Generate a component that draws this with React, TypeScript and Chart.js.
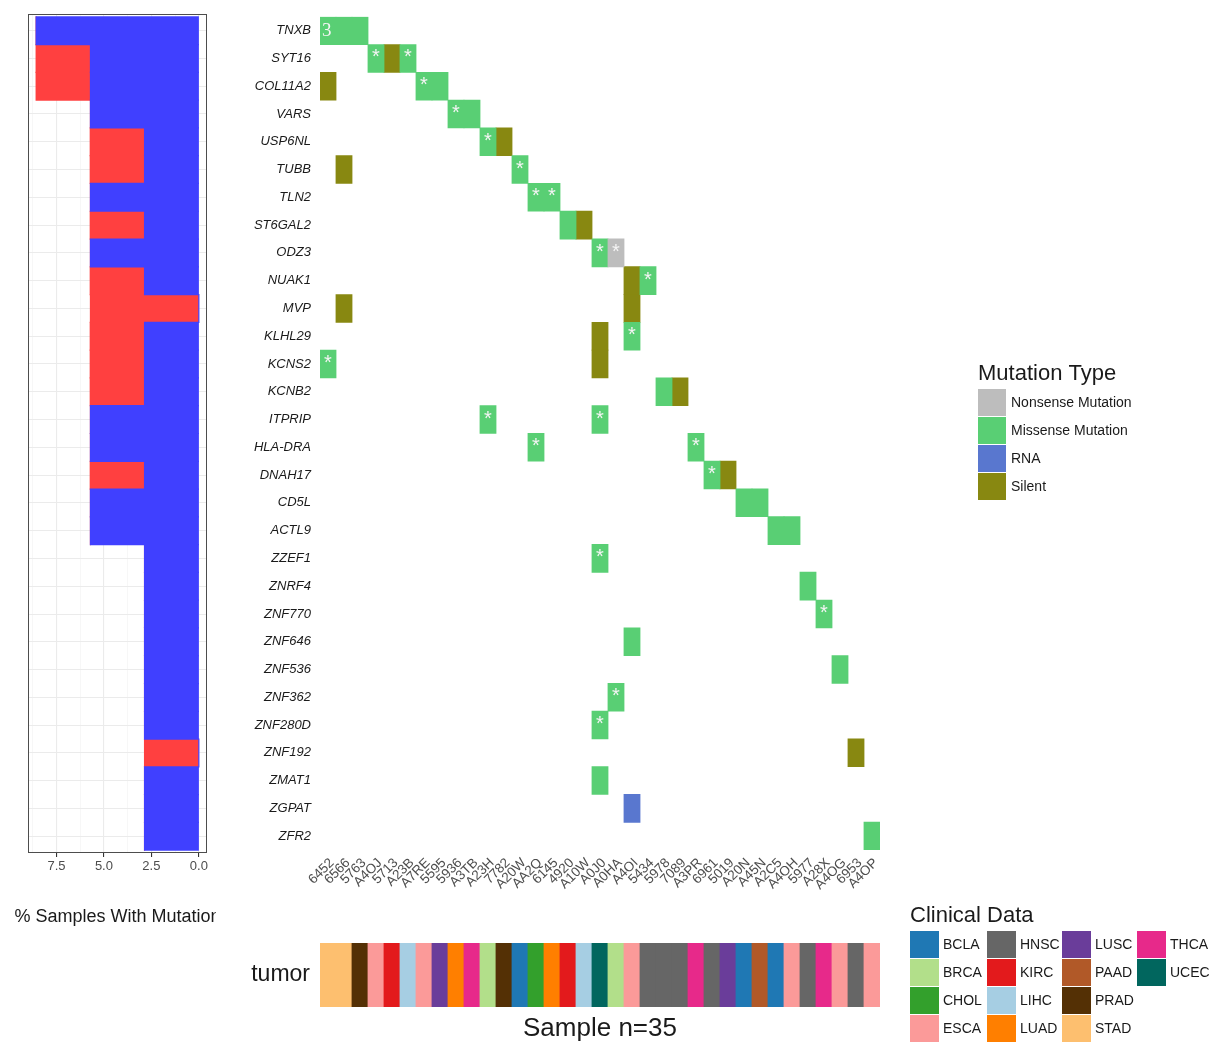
import React, { useEffect, useRef } from 'react';
import { Chart, registerables } from 'chart.js';

Chart.register(...registerables);

const FONT = '"Liberation Sans", Arial, Helvetica, sans-serif';

// ---------- data ----------
const genes = ['TNXB', 'SYT16', 'COL11A2', 'VARS', 'USP6NL', 'TUBB', 'TLN2', 'ST6GAL2', 'ODZ3', 'NUAK1', 'MVP', 'KLHL29', 'KCNS2', 'KCNB2', 'ITPRIP', 'HLA-DRA', 'DNAH17', 'CD5L', 'ACTL9', 'ZZEF1', 'ZNRF4', 'ZNF770', 'ZNF646', 'ZNF536', 'ZNF362', 'ZNF280D', 'ZNF192', 'ZMAT1', 'ZGPAT', 'ZFR2'];

const samples = ['6452', '6566', '5763', 'A4OJ', '5713', 'A23B', 'A7RE', '5595', '5936', 'A3TB', 'A23H', '7782', 'A20W', 'AA2Q', '6145', '4920', 'A10W', 'A0J0', 'A0HA', 'A4OI', '5434', '5978', '7089', 'A3PR', '6961', '5019', 'A20N', 'A45N', 'A2C5', 'A4OH', '5977', 'A28X', 'A4OG', '6953', 'A4OP'];

const tumorTypes = ['STAD', 'STAD', 'PRAD', 'ESCA', 'KIRC', 'LIHC', 'ESCA', 'LUSC', 'LUAD', 'THCA', 'BRCA', 'PRAD', 'BCLA', 'CHOL', 'LUAD', 'KIRC', 'LIHC', 'UCEC', 'BRCA', 'ESCA', 'HNSC', 'HNSC', 'HNSC', 'THCA', 'HNSC', 'LUSC', 'BCLA', 'PAAD', 'BCLA', 'ESCA', 'HNSC', 'THCA', 'ESCA', 'HNSC', 'ESCA'];

// % samples with mutation (left panel)
const nonSynonymousPct = [8.57, 5.71, 5.71, 5.71, 2.86, 2.86, 5.71, 2.86, 5.71, 2.86, 0, 2.86, 2.86, 2.86, 5.71, 5.71, 2.86, 5.71, 5.71, 2.86, 2.86, 2.86, 2.86, 2.86, 2.86, 2.86, 0, 2.86, 2.86, 2.86];
const synonymousPct = [0, 2.86, 2.86, 0, 2.86, 2.86, 0, 2.86, 0, 2.86, 5.71, 2.86, 2.86, 2.86, 0, 0, 2.86, 0, 0, 0, 0, 0, 0, 0, 0, 0, 2.86, 0, 0, 0];

// heatmap cells [gene, sample]
const missenseCells: [string, string][] = [
  ['TNXB', '6452'], ['TNXB', '6566'], ['TNXB', '5763'],
  ['SYT16', 'A4OJ'], ['SYT16', 'A23B'],
  ['COL11A2', 'A7RE'], ['COL11A2', '5595'],
  ['VARS', '5936'], ['VARS', 'A3TB'],
  ['USP6NL', 'A23H'],
  ['TUBB', 'A20W'],
  ['TLN2', 'AA2Q'], ['TLN2', '6145'],
  ['ST6GAL2', '4920'],
  ['ODZ3', 'A0J0'],
  ['NUAK1', '5434'],
  ['KLHL29', 'A4OI'],
  ['KCNS2', '6452'],
  ['KCNB2', '5978'],
  ['ITPRIP', 'A23H'], ['ITPRIP', 'A0J0'],
  ['HLA-DRA', 'AA2Q'], ['HLA-DRA', 'A3PR'],
  ['DNAH17', '6961'],
  ['CD5L', 'A20N'], ['CD5L', 'A45N'],
  ['ACTL9', 'A2C5'], ['ACTL9', 'A4OH'],
  ['ZZEF1', 'A0J0'],
  ['ZNRF4', '5977'],
  ['ZNF770', 'A28X'],
  ['ZNF646', 'A4OI'],
  ['ZNF536', 'A4OG'],
  ['ZNF362', 'A0HA'],
  ['ZNF280D', 'A0J0'],
  ['ZMAT1', 'A0J0'],
  ['ZFR2', 'A4OP'],
];
const silentCells: [string, string][] = [
  ['SYT16', '5713'], ['COL11A2', '6452'], ['USP6NL', '7782'], ['TUBB', '6566'],
  ['ST6GAL2', 'A10W'], ['NUAK1', 'A4OI'], ['MVP', '6566'], ['MVP', 'A4OI'],
  ['KLHL29', 'A0J0'], ['KCNS2', 'A0J0'], ['KCNB2', '7089'], ['DNAH17', '5019'],
  ['ZNF192', '6953'],
];
const nonsenseCells: [string, string][] = [['ODZ3', 'A0HA']];
const rnaCells: [string, string][] = [['ZGPAT', 'A4OI']];

const starredCells: [string, string][] = [
  ['SYT16', 'A4OJ'], ['SYT16', 'A23B'], ['COL11A2', 'A7RE'], ['VARS', '5936'],
  ['USP6NL', 'A23H'], ['TUBB', 'A20W'], ['TLN2', 'AA2Q'], ['TLN2', '6145'],
  ['ODZ3', 'A0J0'], ['ODZ3', 'A0HA'], ['NUAK1', '5434'], ['KLHL29', 'A4OI'],
  ['KCNS2', '6452'], ['ITPRIP', 'A23H'], ['ITPRIP', 'A0J0'], ['HLA-DRA', 'AA2Q'],
  ['HLA-DRA', 'A3PR'], ['DNAH17', '6961'], ['ZZEF1', 'A0J0'], ['ZNF770', 'A28X'],
  ['ZNF362', 'A0HA'], ['ZNF280D', 'A0J0'],
];
const cellLabels: [string, string, string][] = [['TNXB', '6452', '3']];

const mutationTypes = ['Nonsense Mutation', 'Missense Mutation', 'RNA', 'Silent'];
const mutationColors = ['#BDBDBD', '#59CF74', '#5977CF', '#888811'];

const clinicalTypes = ['BCLA', 'BRCA', 'CHOL', 'ESCA', 'HNSC', 'KIRC', 'LIHC', 'LUAD', 'LUSC', 'PAAD', 'PRAD', 'STAD', 'THCA', 'UCEC'];
const clinicalColors = ['#1F78B4', '#B2DF8A', '#33A02C', '#FB9A99', '#666666', '#E31A1C', '#A6CEE3', '#FF7F00', '#6A3D9A', '#B15928', '#543005', '#FDBF6F', '#E7298A', '#01665E'];

const leftTickValues = [0, 1.25, 2.5, 3.75, 5, 6.25, 7.5, 8.75];
const leftMajorTicks = [0, 2.5, 5, 7.5];

// ---------- layout constants ----------
const LEFT_X = 15;
const HEAT_X = 220;
const TUMOR_Y = 890;

const toCells = (cells: [string, string][]) =>
  cells.map(([g, s]) => {
    const i = samples.indexOf(s);
    return { x: [i, i + 1], y: g };
  });

export default function App() {
  const leftRef = useRef<HTMLCanvasElement>(null);
  const heatRef = useRef<HTMLCanvasElement>(null);
  const tumorRef = useRef<HTMLCanvasElement>(null);

  useEffect(() => {
    Chart.defaults.font.family = FONT;
    const charts: Chart[] = [];

    // ---------- left: % samples with mutation ----------
    const leftDecor = {
      id: 'leftDecor',
      afterDraw(chart: any) {
        const { ctx, chartArea: a } = chart;
        ctx.save();
        ctx.strokeStyle = '#4D4D4D';
        ctx.lineWidth = 1;
        ctx.strokeRect(a.left + 0.5, a.top + 0.5, a.right - a.left - 1, a.bottom - a.top - 1);
        ctx.fillStyle = '#1A1A1A';
        ctx.font = `18px ${FONT}`;
        ctx.textAlign = 'center';
        ctx.textBaseline = 'middle';
        ctx.fillText('% Samples With Mutation', (a.left + a.right) / 2, 917);
        ctx.restore();
      },
    };
    charts.push(
      new Chart(leftRef.current!, {
        type: 'bar',
        data: {
          datasets: [
            {
              label: 'Non Synonymous',
              data: genes.map((g, i) => ({ y: i + 1, x: [0, nonSynonymousPct[i]] })) as any,
              backgroundColor: '#4040FF',
              borderWidth: 0,
              inflateAmount: 0.6,
              grouped: false,
              barPercentage: 1,
              categoryPercentage: 1,
            } as any,
            {
              label: 'Synonymous',
              data: genes.map((g, i) => ({ y: i + 1, x: [nonSynonymousPct[i], nonSynonymousPct[i] + synonymousPct[i]] })) as any,
              backgroundColor: '#FF4040',
              borderWidth: 0,
              inflateAmount: 0.6,
              grouped: false,
              barPercentage: 1,
              categoryPercentage: 1,
            } as any,
          ],
        },
        options: {
          indexAxis: 'y',
          animation: false,
          responsive: false,
          maintainAspectRatio: false,
          layout: { padding: { left: 13, right: 9, top: 14, bottom: 47 } },
          plugins: { legend: { display: false }, tooltip: { enabled: false } },
          scales: {
            x: {
              type: 'linear',
              reverse: true,
              min: -0.43,
              max: 9.0,
              offset: false,
              afterBuildTicks: (s: any) => {
                s.ticks = leftTickValues.map((v) => ({ value: v }));
              },
              afterFit: (s: any) => {
                s.height = 40;
              },
              ticks: {
                autoSkip: false,
                maxRotation: 0,
                padding: 2,
                color: '#4D4D4D',
                font: { size: 13, family: FONT },
                callback: (v: any) => (leftMajorTicks.includes(Number(v)) ? Number(v).toFixed(1) : ''),
              },
              grid: {
                offset: false,
                color: (c: any) => (leftMajorTicks.includes(c.tick?.value) ? '#EBEBEB' : '#F3F3F3'),
                lineWidth: (c: any) => (leftMajorTicks.includes(c.tick?.value) ? 1.1 : 0.7),
                tickColor: (c: any) => (leftMajorTicks.includes(c.tick?.value) ? '#333333' : 'rgba(0,0,0,0)'),
                tickLength: 4,
                drawTicks: true,
              },
              border: { display: false },
            } as any,
            y: {
              type: 'linear',
              reverse: true,
              min: 0.4,
              max: 30.6,
              offset: false,
              afterBuildTicks: (s: any) => {
                s.ticks = genes.map((_, i) => ({ value: i + 1 }));
              },
              afterFit: (s: any) => {
                s.width = 0;
              },
              ticks: { display: false },
              grid: { offset: false, color: '#EBEBEB', lineWidth: 1.1, drawTicks: false },
              border: { display: false },
            } as any,
          },
        },
        plugins: [leftDecor],
      })
    );

    // ---------- heatmap ----------
    const heatDecor = {
      id: 'heatDecor',
      afterDatasetsDraw(chart: any) {
        const { ctx, scales } = chart;
        const x = scales.x;
        const y = scales.y;
        ctx.save();
        ctx.fillStyle = '#F4F4F4';
        ctx.font = `20px ${FONT}`;
        ctx.textAlign = 'center';
        ctx.textBaseline = 'alphabetic';
        starredCells.forEach(([g, s]) => {
          const i = samples.indexOf(s);
          const cx = x.getPixelForValue(i + 0.5);
          const cy = y.getPixelForValue(genes.indexOf(g));
          ctx.fillText('*', cx, cy + 5);
        });
        ctx.font = `19px "Liberation Serif", serif`;
        ctx.textAlign = 'left';
        ctx.textBaseline = 'middle';
        cellLabels.forEach(([g, s, t]) => {
          const i = samples.indexOf(s);
          ctx.fillText(t, x.getPixelForValue(i) + 2, y.getPixelForValue(genes.indexOf(g)));
        });
        ctx.restore();
      },
      afterDraw(chart: any) {
        const { ctx } = chart;
        const ox = -HEAT_X;
        ctx.save();
        ctx.fillStyle = '#1A1A1A';
        ctx.font = `22px ${FONT}`;
        ctx.textAlign = 'left';
        ctx.textBaseline = 'middle';
        ctx.fillText('Mutation Type', 978 + ox, 374);
        mutationTypes.forEach((t, i) => {
          const top = 389 + i * 28;
          ctx.fillStyle = mutationColors[i];
          ctx.fillRect(978 + ox, top, 28, 27);
          ctx.fillStyle = '#1A1A1A';
          ctx.font = `14px ${FONT}`;
          ctx.fillText(t, 1011 + ox, top + 14);
        });
        ctx.restore();
      },
    };
    charts.push(
      new Chart(heatRef.current!, {
        type: 'bar',
        data: {
          labels: genes,
          datasets: [
            { label: mutationTypes[0], data: toCells(nonsenseCells) as any, backgroundColor: mutationColors[0] },
            { label: mutationTypes[1], data: toCells(missenseCells) as any, backgroundColor: mutationColors[1] },
            { label: mutationTypes[2], data: toCells(rnaCells) as any, backgroundColor: mutationColors[2] },
            { label: mutationTypes[3], data: toCells(silentCells) as any, backgroundColor: mutationColors[3] },
          ].map((d) => ({ ...d, borderWidth: 0, inflateAmount: 0.4, grouped: false, barPercentage: 1, categoryPercentage: 1 })) as any,
        },
        options: {
          indexAxis: 'y',
          animation: false,
          responsive: false,
          maintainAspectRatio: false,
          layout: { padding: { left: 0, right: 331, top: 16, bottom: 0 } },
          plugins: { legend: { display: false }, tooltip: { enabled: false } },
          scales: {
            x: {
              type: 'linear',
              min: 0,
              max: samples.length,
              afterBuildTicks: (s: any) => {
                s.ticks = samples.map((_, i) => ({ value: i + 0.5 }));
              },
              afterFit: (s: any) => {
                s.height = 50;
              },
              ticks: {
                autoSkip: false,
                minRotation: 45,
                maxRotation: 45,
                padding: 5,
                labelOffset: 4,
                color: '#4D4D4D',
                font: { size: 13.5, family: FONT },
                callback: (v: any) => samples[Math.floor(Number(v))],
              },
              grid: { display: false, drawTicks: false },
              border: { display: false },
            } as any,
            y: {
              type: 'category',
              afterFit: (s: any) => {
                s.width = 100;
              },
              ticks: {
                autoSkip: false,
                padding: 9,
                color: '#1A1A1A',
                font: { size: 13, style: 'italic', family: FONT },
              },
              grid: { display: false, drawTicks: false },
              border: { display: false },
            } as any,
          },
        },
        plugins: [heatDecor],
      })
    );

    // ---------- tumor strip ----------
    const tumorDecor = {
      id: 'tumorDecor',
      afterDraw(chart: any) {
        const { ctx } = chart;
        const ox = -HEAT_X;
        const oy = -TUMOR_Y;
        ctx.save();
        ctx.fillStyle = '#1A1A1A';
        ctx.font = `22px ${FONT}`;
        ctx.textAlign = 'left';
        ctx.textBaseline = 'middle';
        ctx.fillText('Clinical Data', 910 + ox, 916 + oy);
        const colX = [910, 987, 1062, 1137];
        clinicalTypes.forEach((t, i) => {
          const col = Math.floor(i / 4);
          const row = i % 4;
          const left = colX[col] + ox;
          const top = 931 + row * 28 + oy;
          ctx.fillStyle = clinicalColors[i];
          ctx.fillRect(left, top, 29, 27);
          ctx.fillStyle = '#1A1A1A';
          ctx.font = `14px ${FONT}`;
          ctx.fillText(t, left + 33, top + 14);
        });
        ctx.restore();
      },
    };
    charts.push(
      new Chart(tumorRef.current!, {
        type: 'bar',
        data: {
          labels: ['tumor'],
          datasets: [
            {
              label: 'tumor',
              data: tumorTypes.map((t, i) => ({ x: [i, i + 1], y: 'tumor' })) as any,
              backgroundColor: tumorTypes.map((t) => clinicalColors[clinicalTypes.indexOf(t)]),
              borderWidth: 0,
              inflateAmount: 0.4,
              grouped: false,
              barPercentage: 1,
              categoryPercentage: 1,
            } as any,
          ],
        },
        options: {
          indexAxis: 'y',
          animation: false,
          responsive: false,
          maintainAspectRatio: false,
          layout: { padding: { left: 0, right: 331, top: 53, bottom: 0 } },
          plugins: { legend: { display: false }, tooltip: { enabled: false } },
          scales: {
            x: {
              type: 'linear',
              min: 0,
              max: samples.length,
              afterFit: (s: any) => {
                s.height = 37;
              },
              ticks: { display: false },
              grid: { display: false, drawTicks: false },
              border: { display: false },
              title: {
                display: true,
                text: 'Sample n=35',
                color: '#1A1A1A',
                font: { size: 26, family: FONT },
                padding: { top: 0, bottom: 0 },
              },
            } as any,
            y: {
              type: 'category',
              afterFit: (s: any) => {
                s.width = 100;
              },
              ticks: { padding: 10, color: '#1A1A1A', font: { size: 23, family: FONT } },
              grid: { display: false, drawTicks: false },
              border: { display: false },
            } as any,
          },
        },
        plugins: [tumorDecor],
      })
    );

    return () => charts.forEach((c) => c.destroy());
  }, []);

  return (
    <div style={{ position: 'absolute', left: 0, top: 0, width: 1211, height: 1044, background: '#fff', overflow: 'hidden' }}>
      <canvas ref={leftRef} width={201} height={940} style={{ position: 'absolute', left: LEFT_X, top: 0, width: 201, height: 940 }} />
      <canvas ref={heatRef} width={991} height={900} style={{ position: 'absolute', left: HEAT_X, top: 0, width: 991, height: 900 }} />
      <canvas ref={tumorRef} width={991} height={154} style={{ position: 'absolute', left: HEAT_X, top: TUMOR_Y, width: 991, height: 154 }} />
    </div>
  );
}
